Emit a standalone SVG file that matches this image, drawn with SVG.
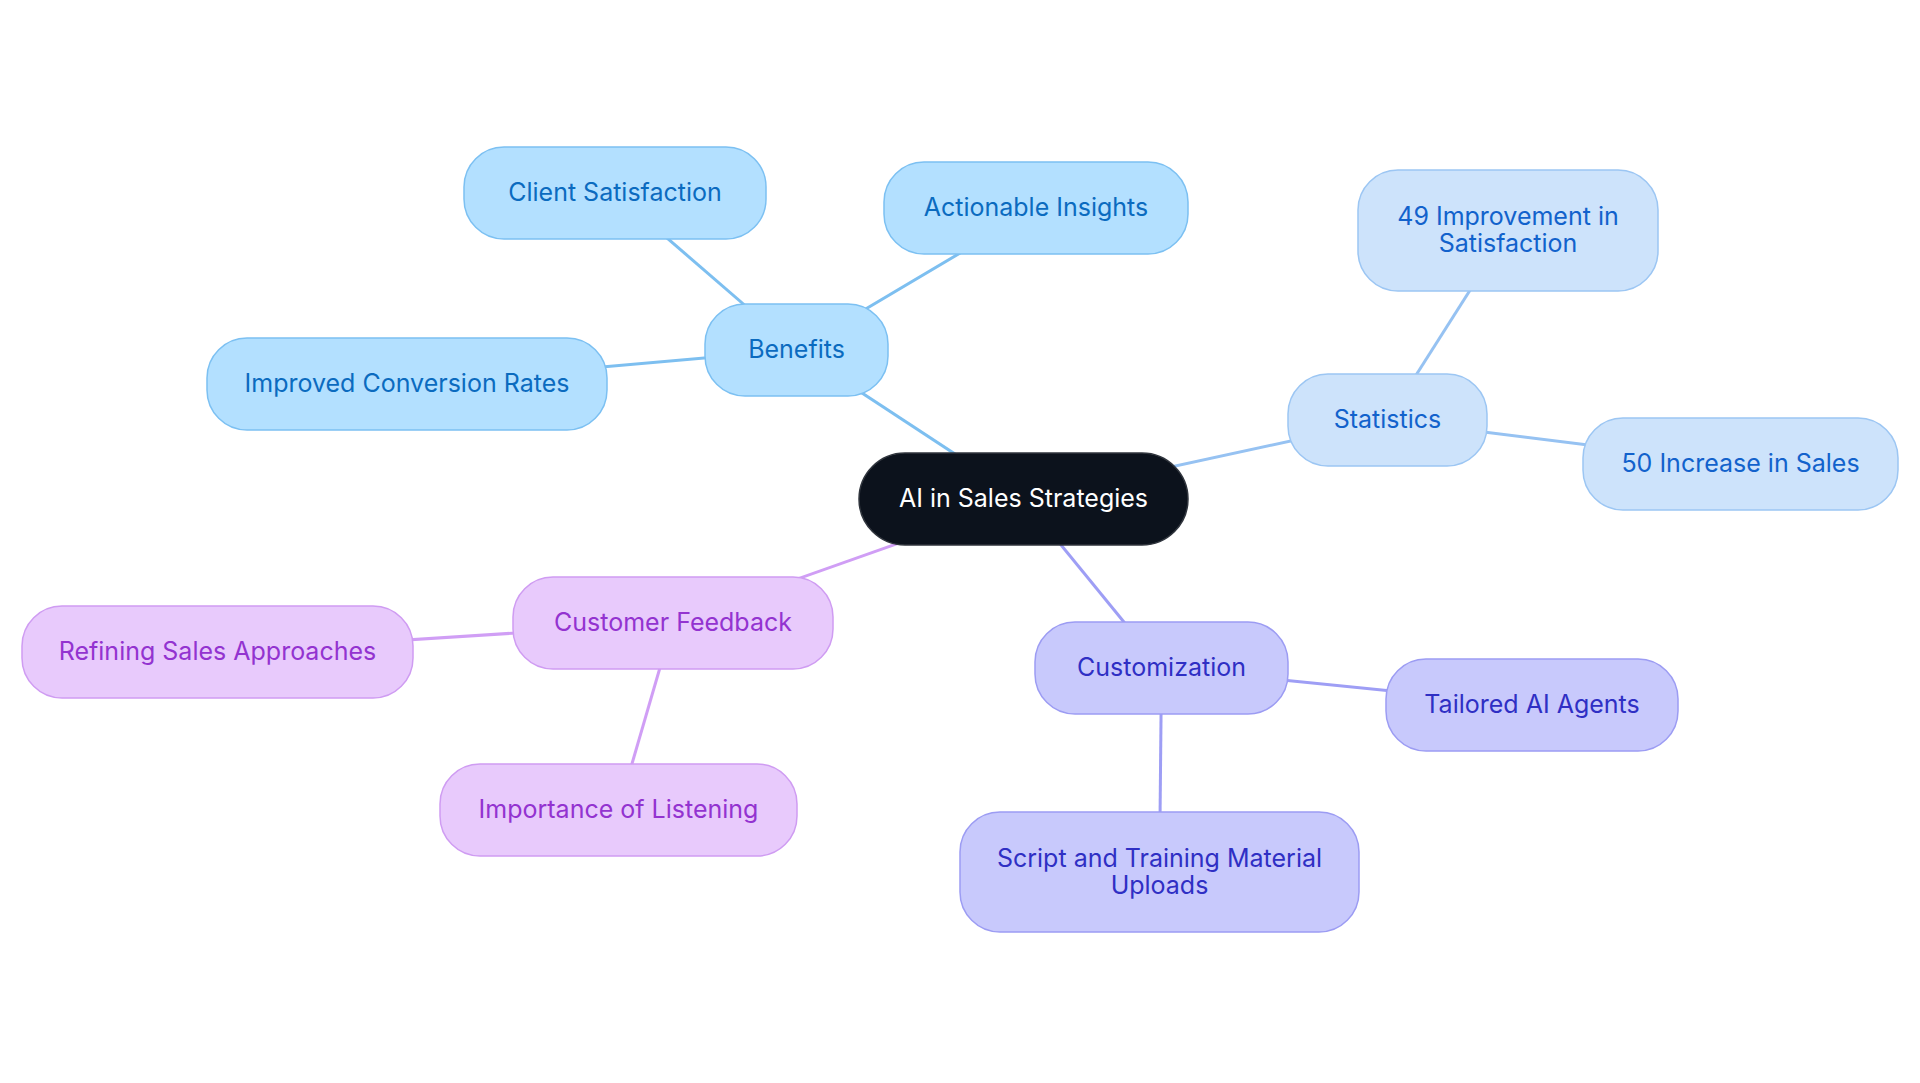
<svg xmlns="http://www.w3.org/2000/svg" width="1920" height="1083" viewBox="0 0 1920 1083">
<style>
text{font-family:Inter,"Noto Sans","Liberation Sans",sans-serif;font-size:25px;text-anchor:middle}
.b rect{fill:#b3e0ff;stroke:#7cc0f2;stroke-width:1.5}
.b text{fill:#0b6bbf}
.s rect{fill:#cde3fb;stroke:#9cc6f3;stroke-width:1.5}
.s text{fill:#1262cc}
.c rect{fill:#c8c9fc;stroke:#9c9cf3;stroke-width:1.5}
.c text{fill:#2f2fc4}
.f rect{fill:#e8cafc;stroke:#cf9cf2;stroke-width:1.5}
.f text{fill:#9333d0}
#connectors line{stroke-width:3;fill:none}
.lb{stroke:#7dbff0}.ls{stroke:#96c2f2}.lc{stroke:#9e9ef5}.lf{stroke:#d09ef5}
</style>
<rect width="1920" height="1083" fill="#ffffff"/>
<g id="connectors">
<line class="lb" x1="1023.5" y1="499" x2="796.5" y2="350"/>
<line class="lb" x1="796.5" y1="350" x2="615" y2="193"/>
<line class="lb" x1="796.5" y1="350" x2="1036" y2="208"/>
<line class="lb" x1="796.5" y1="350" x2="407" y2="384"/>
<line class="ls" x1="1023.5" y1="499" x2="1387.5" y2="420"/>
<line class="ls" x1="1387.5" y1="420" x2="1508" y2="230.5"/>
<line class="ls" x1="1387.5" y1="420" x2="1740.5" y2="464"/>
<line class="lf" x1="1023.5" y1="499" x2="673" y2="623"/>
<line class="lf" x1="673" y1="623" x2="217.5" y2="652"/>
<line class="lf" x1="673" y1="623" x2="618.5" y2="810"/>
<line class="lc" x1="1023.5" y1="499" x2="1161.5" y2="668"/>
<line class="lc" x1="1161.5" y1="668" x2="1532" y2="705"/>
<line class="lc" x1="1161.5" y1="668" x2="1159.5" y2="872"/>
</g>
<g id="n-center">
<rect x="859" y="453" width="329" height="92" rx="46" fill="#0c121c" stroke="#30353d" stroke-width="1.5"/>
<text x="1023.5" y="507" fill="#ffffff">AI in Sales Strategies</text>
</g>
<g id="n-benefits" class="b">
<rect x="705" y="304" width="183" height="92" rx="40"/>
<text x="796.5" y="358">Benefits</text>
</g>
<g id="n-client" class="b">
<rect x="464" y="147" width="302" height="92" rx="40"/>
<text x="615" y="201">Client Satisfaction</text>
</g>
<g id="n-actionable" class="b">
<rect x="884" y="162" width="304" height="92" rx="40"/>
<text x="1036" y="216">Actionable Insights</text>
</g>
<g id="n-improved" class="b">
<rect x="207" y="338" width="400" height="92" rx="40"/>
<text x="407" y="392">Improved Conversion Rates</text>
</g>
<g id="n-statistics" class="s">
<rect x="1288" y="374" width="199" height="92" rx="40"/>
<text x="1387.5" y="428">Statistics</text>
</g>
<g id="n-49" class="s">
<rect x="1358" y="170" width="300" height="121" rx="40"/>
<text x="1508" y="225">49 Improvement in</text>
<text x="1508" y="252">Satisfaction</text>
</g>
<g id="n-50" class="s">
<rect x="1583" y="418" width="315" height="92" rx="40"/>
<text x="1740.5" y="472">50 Increase in Sales</text>
</g>
<g id="n-feedback" class="f">
<rect x="513" y="577" width="320" height="92" rx="40"/>
<text x="673" y="631">Customer Feedback</text>
</g>
<g id="n-refining" class="f">
<rect x="22" y="606" width="391" height="92" rx="40"/>
<text x="217.5" y="660">Refining Sales Approaches</text>
</g>
<g id="n-listening" class="f">
<rect x="440" y="764" width="357" height="92" rx="40"/>
<text x="618.5" y="818">Importance of Listening</text>
</g>
<g id="n-customization" class="c">
<rect x="1035" y="622" width="253" height="92" rx="40"/>
<text x="1161.5" y="676">Customization</text>
</g>
<g id="n-tailored" class="c">
<rect x="1386" y="659" width="292" height="92" rx="40"/>
<text x="1532" y="713">Tailored AI Agents</text>
</g>
<g id="n-script" class="c">
<rect x="960" y="812" width="399" height="120" rx="40"/>
<text x="1159.5" y="866.5">Script and Training Material</text>
<text x="1159.5" y="893.5">Uploads</text>
</g>
</svg>
